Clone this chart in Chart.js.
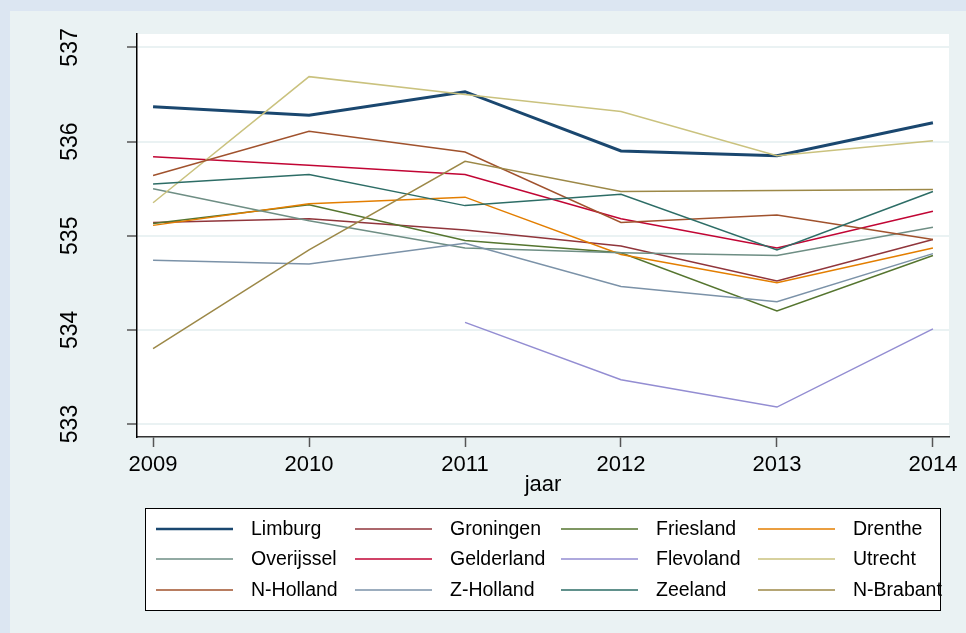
<!DOCTYPE html>
<html><head><meta charset="utf-8">
<script src="https://cdn.jsdelivr.net/npm/chart.js@4.4.1/dist/chart.umd.min.js"></script>
<style>
html,body{margin:0;padding:0;background:#dce6f2;overflow:hidden;}
#wrap{position:absolute;left:0;top:0;width:966px;height:633px;}
</style>
</head><body>
<div id="wrap"><canvas id="c"></canvas></div>
<script>
const years = [2009, 2010, 2011, 2012, 2013, 2014];
const yTicks = [533, 534, 535, 536, 537];
const provinces = ['Limburg','Groningen','Friesland','Drenthe','Overijssel','Gelderland','Flevoland','Utrecht','N-Holland','Z-Holland','Zeeland','N-Brabant'];
const limburg    = [536.37, 536.28, 536.53, 535.90, 535.85, 536.20];
const groningen  = [535.14, 535.18, 535.06, 534.89, 534.52, 534.96];
const friesland  = [535.13, 535.33, 534.95, 534.82, 534.20, 534.79];
const drenthe    = [535.11, 535.34, 535.41, 534.80, 534.50, 534.87];
const overijssel = [535.50, 535.16, 534.87, 534.82, 534.79, 535.09];
const gelderland = [535.84, 535.75, 535.65, 535.18, 534.87, 535.26];
const flevoland  = [null, null, 534.08, 533.47, 533.18, 534.01];
const utrecht    = [535.35, 536.69, 536.50, 536.32, 535.85, 536.01];
const nholland   = [535.64, 536.11, 535.89, 535.14, 535.22, 534.96];
const zholland   = [534.74, 534.70, 534.92, 534.46, 534.30, 534.81];
const zeeland    = [535.55, 535.65, 535.32, 535.44, 534.85, 535.47];
const nbrabant   = [533.80, 534.85, 535.79, 535.47, 535.48, 535.49];

const seriesValues = [limburg, groningen, friesland, drenthe, overijssel, gelderland, flevoland, utrecht, nholland, zholland, zeeland, nbrabant];
const colors = ['#1a476f','#90353b','#55752f','#e37e00','#6e8e84','#c10534','#938dd2','#cac27e','#a0522d','#7b92a8','#2d6d66','#9c8847'];
const widths = [3,1.5,1.5,1.5,1.5,1.5,1.5,1.5,1.5,1.5,1.5,1.5];

const datasets = provinces.map((name, i) => ({
  label: name,
  data: years.map((yr, j) => ({x: yr, y: seriesValues[i][j]})),
  borderColor: colors[i],
  backgroundColor: colors[i],
  borderWidth: widths[i],
  pointRadius: 0,
  tension: 0,
  spanGaps: false,
  order: provinces.length - 1 - i
}));

const bgPlugin = {
  id: 'bg',
  beforeDraw(chart) {
    const ctx = chart.ctx, a = chart.chartArea;
    ctx.save();
    ctx.fillStyle = '#dce6f2';
    ctx.fillRect(0, 0, chart.width, chart.height);
    ctx.fillStyle = '#eaf2f3';
    ctx.fillRect(10, 11, chart.width - 10, chart.height - 11);
    ctx.fillStyle = '#ffffff';
    ctx.fillRect(a.left, a.top, a.right - a.left, a.bottom - a.top);
    ctx.restore();
  }
};

const legendPlugin = {
  id: 'gridLegend',
  afterDraw(chart) {
    const ctx = chart.ctx;
    const colX = [156, 355, 561, 758];
    const rowY = [529, 559, 590];
    ctx.save();
    ctx.fillStyle = '#ffffff';
    ctx.fillRect(145.5, 508.5, 795, 102);
    ctx.strokeStyle = '#000000';
    ctx.lineWidth = 1;
    ctx.strokeRect(145.5, 508.5, 795, 102);
    ctx.font = '19.5px "Liberation Sans", Arial, sans-serif';
    ctx.textBaseline = 'middle';
    ctx.textAlign = 'left';
    chart.data.datasets.forEach((ds, i) => {
      const cx = colX[i % 4], cy = rowY[Math.floor(i / 4)];
      ctx.strokeStyle = ds.borderColor;
      ctx.lineWidth = ds.borderWidth > 2 ? 2.5 : 1.5;
      ctx.beginPath();
      ctx.moveTo(cx, cy);
      ctx.lineTo(cx + 77, cy);
      ctx.stroke();
      ctx.fillStyle = '#000000';
      ctx.fillText(ds.label, cx + 95, cy + 1);
    });
    ctx.restore();
  }
};

function noPad(s) { s.paddingTop = 0; s.paddingBottom = 0; s.paddingLeft = 0; s.paddingRight = 0; }

new Chart(document.getElementById('c'), {
  type: 'line',
  data: { datasets },
  plugins: [bgPlugin, legendPlugin],
  options: {
    responsive: true,
    maintainAspectRatio: false,
    animation: false,
    layout: { padding: { left: 0, top: 34, right: 17, bottom: 126 } },
    plugins: { legend: { display: false }, tooltip: { enabled: false } },
    scales: {
      x: {
        type: 'linear',
        min: 2008.897,
        max: 2014.103,
        afterBuildTicks: (s) => { s.ticks = years.map(v => ({value: v})); },
        afterFit: (s) => { s.height = 70; noPad(s); },
        ticks: {
          color: '#000',
          font: { family: '"Liberation Sans", Arial, sans-serif', size: 22 },
          padding: 5,
          maxRotation: 0,
          autoSkip: false,
          callback: (v) => String(v)
        },
        grid: { drawOnChartArea: false, drawTicks: true, tickLength: 10, tickColor: '#555', tickWidth: 1.5 },
        border: { display: true, color: '#333', width: 1.5 },
        title: {
          display: true,
          text: 'jaar',
          color: '#000',
          font: { family: '"Liberation Sans", Arial, sans-serif', size: 22 },
          padding: { top: 0, bottom: 9 }
        }
      },
      y: {
        type: 'linear',
        min: 532.862,
        max: 537.143,
        afterBuildTicks: (s) => { s.ticks = yTicks.map(v => ({value: v})); },
        afterFit: (s) => { s.width = 137; noPad(s); },
        ticks: {
          color: '#000',
          font: { family: '"Liberation Sans", Arial, sans-serif', size: 23 },
          minRotation: 90,
          maxRotation: 90,
          crossAlign: 'center',
          padding: 37,
          autoSkip: false,
          callback: (v) => String(v)
        },
        grid: { color: '#eaf2f3', lineWidth: 2, drawTicks: true, tickLength: 10, tickColor: '#555', tickWidth: 1.5 },
        border: { display: true, color: '#000', width: 1.5 }
      }
    }
  }
});
</script>
</body></html>
